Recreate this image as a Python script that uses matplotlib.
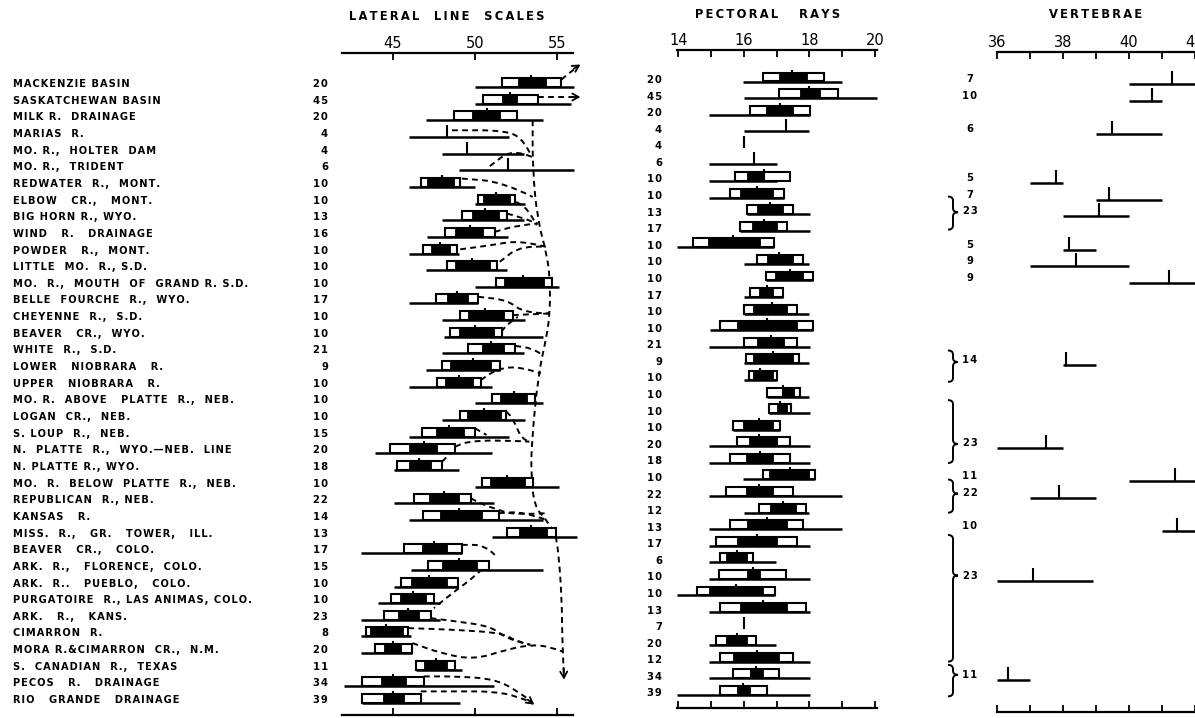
import numpy as np
import matplotlib.pyplot as plt
from matplotlib.patches import Rectangle, PathPatch
from matplotlib.path import Path
from matplotlib.transforms import blended_transform_factory

plt.rcParams['font.family'] = ['DejaVu Sans']
plt.rcParams['font.weight'] = 'bold'

W, H = 1195, 718

'''
    Data read off the chart (one row per drainage)
'''
drainages = [
    "MACKENZIE BASIN", "SASKATCHEWAN BASIN", "MILK R.  DRAINAGE", "MARIAS  R.",
    "MO. R.,  HOLTER  DAM", "MO. R.,  TRIDENT", "REDWATER  R.,  MONT.", "ELBOW   CR.,   MONT.",
    "BIG HORN R., WYO.", "WIND   R.   DRAINAGE", "POWDER   R.,  MONT.", "LITTLE  MO.  R., S.D.",
    "MO.  R.,  MOUTH  OF  GRAND R. S.D.", "BELLE  FOURCHE  R.,  WYO.", "CHEYENNE  R.,  S.D.",
    "BEAVER   CR.,  WYO.", "WHITE  R.,  S.D.", "LOWER   NIOBRARA   R.", "UPPER   NIOBRARA   R.",
    "MO. R.  ABOVE   PLATTE  R.,  NEB.", "LOGAN  CR.,  NEB.", "S. LOUP  R.,  NEB.",
    "N.  PLATTE  R.,  WYO.\u2014NEB.  LINE", "N. PLATTE R., WYO.", "MO.  R.  BELOW  PLATTE  R.,  NEB.",
    "REPUBLICAN  R., NEB.", "KANSAS   R.", "MISS.  R.,   GR.   TOWER,   ILL.", "BEAVER   CR.,   COLO.",
    "ARK.  R.,   FLORENCE,  COLO.", "ARK.  R..   PUEBLO,   COLO.", "PURGATOIRE  R., LAS ANIMAS, COLO.",
    "ARK.   R.,   KANS.", "CIMARRON  R.", "MORA R.&CIMARRON  CR.,  N.M.", "S.  CANADIAN  R.,  TEXAS",
    "PECOS   R.   DRAINAGE", "RIO   GRANDE   DRAINAGE",
]

# lateral line scales
lat_n = [20, 45, 20, 4, 4, 6, 10, 10, 13, 16, 10, 10, 10, 17, 10, 10, 21, 9, 10,
         10, 10, 15, 20, 18, 10, 22, 14, 13, 17, 15, 10, 10, 23, 8, 20, 11, 34, 39]
lat_rng_lo = [50.0, 50.0, 47.0, 46.0, 48.0, 49.0, 46.0, 50.0, 48.0, 47.1, 46.0, 47.05, 50.0,
              46.0, 48.0, 48.1, 48.0, 47.05, 46.0, 50.0, 48.0, 46.0, 43.95, 45.1, 50.0, 45.1,
              46.0, 51.05, 43.1, 46.1, 45.1, 44.1, 43.1, 43.1, 43.1, 46.4, 42.05, 43.15]
lat_rng_hi = [56.0, 55.8, 54.1, 52.05, 53.0, 56.0, 50.0, 53.05, 52.95, 52.0, 49.0, 51.95, 55.1,
              50.2, 53.05, 54.1, 52.95, 51.5, 51.05, 54.1, 53.05, 52.05, 51.05, 49.0, 55.1, 51.15,
              54.1, 56.2, 49.2, 54.1, 48.9, 47.9, 47.9, 46.1, 46.2, 49.2, 51.15, 49.1]
lat_sd_lo = [51.65, 50.5, 48.7, None, None, None, 46.7, 50.2, 49.2, 48.15, 46.85, 48.3, 51.25,
             47.6, 49.1, 48.5, 49.6, 48.0, 47.7, 51.05, 49.1, 46.8, 44.85, 45.25, 50.45, 46.3,
             46.85, 51.95, 45.7, 47.15, 45.5, 44.9, 44.5, 43.4, 43.9, 46.4, 43.15, 43.15]
lat_sd_hi = [55.2, 53.8, 52.55, None, None, None, 49.1, 52.45, 51.95, 51.2, 48.9, 51.35, 54.7,
             50.2, 52.3, 51.65, 52.45, 51.5, 50.35, 53.65, 51.9, 50.0, 48.8, 48.0, 53.5, 49.75,
             51.45, 54.9, 49.2, 50.85, 48.95, 47.5, 47.3, 45.9, 46.2, 48.8, 46.9, 46.7]
lat_se_lo = [52.6, 51.65, 49.8, None, None, None, 47.1, 50.5, 49.8, 48.8, 47.3, 48.8, 51.75,
             48.3, 49.6, 49.0, 50.45, 48.5, 48.2, 51.5, 49.5, 47.6, 46.0, 46.0, 50.9, 47.2,
             47.9, 52.65, 46.8, 48.0, 46.1, 45.45, 45.3, 43.6, 44.5, 46.9, 44.3, 44.4]
lat_se_hi = [54.3, 52.55, 51.5, None, None, None, 48.7, 52.15, 51.45, 50.5, 48.5, 50.9, 54.2,
             49.55, 51.75, 51.15, 51.75, 51.0, 49.9, 53.15, 51.55, 49.3, 47.7, 47.3, 53.05, 49.0,
             50.45, 54.35, 48.3, 50.1, 48.3, 47.0, 46.6, 45.6, 45.5, 48.3, 45.8, 45.7]
lat_mean = [53.4, 52.1, 50.7, 48.3, 49.5, 52.0, 48.0, 51.3, 50.6, 49.7, 47.9, 49.8, 52.9,
            48.9, 50.6, 50.0, 51.0, 49.9, 49.0, 52.35, 50.55, 48.4, 46.9, 46.6, 51.95, 48.1,
            49.0, 53.4, 47.5, 49.0, 47.2, 46.25, 45.9, 44.6, 45.0, 47.6, 45.0, 45.0]

# pectoral rays
pec_n = [20, 45, 20, 4, 4, 6, 10, 10, 13, 17, 10, 10, 10, 17, 10, 10, 21, 9, 10,
         10, 10, 10, 20, 18, 10, 22, 12, 13, 17, 6, 10, 10, 13, 7, 20, 12, 34, 39]
pec_rng_lo = [15.98, 16.0, 14.95, 16.0, 16.0, 14.95, 14.95, 14.95, 16.09, 15.88, 13.95, 16.0, 16.68,
              16.0, 16.0, 14.97, 14.95, 16.0, 16.0, 16.7, 16.78, 15.68, 14.95, 14.95, 15.98, 14.95,
              16.0, 14.95, 14.95, 14.95, 14.95, 13.95, 14.95, 16.0, 14.95, 14.95, 14.95, 13.95]
pec_rng_hi = [18.98, 20.05, 18.02, 18.0, 16.0, 17.0, 17.0, 17.22, 18.02, 18.02, 16.92, 18.0, 18.12,
              17.2, 18.0, 18.12, 18.02, 18.0, 17.0, 18.0, 18.02, 17.1, 18.02, 18.02, 18.17, 18.98,
              18.0, 18.98, 18.02, 16.98, 18.02, 16.95, 18.02, 16.0, 16.98, 18.02, 18.02, 18.02]
pec_sd_lo = [16.57, 17.08, 16.19, None, None, None, 15.73, 15.58, 16.09, 15.88, 14.46, 16.39, 16.68,
             16.19, 16.0, 15.27, 16.0, 16.07, 16.17, 16.7, 16.78, 15.68, 15.78, 15.58, 16.59, 15.45,
             16.47, 15.58, 15.15, 15.27, 15.25, 14.56, 15.27, None, 15.15, 15.27, 15.66, 15.27]
pec_sd_hi = [18.43, 18.88, 18.02, None, None, None, 17.4, 17.22, 17.51, 17.31, 16.92, 17.81, 18.12,
             17.2, 17.61, 18.12, 17.61, 17.69, 17.0, 17.71, 17.43, 17.1, 17.41, 17.41, 18.17, 17.49,
             17.9, 17.79, 17.61, 16.29, 17.29, 16.95, 17.9, None, 16.37, 17.49, 17.08, 16.7]
pec_se_lo = [17.08, 17.71, 16.68, None, None, None, 16.08, 15.88, 16.39, 16.24, 14.89, 16.7, 16.95,
             16.47, 16.27, 15.78, 16.39, 16.29, 16.27, 17.2, 17.0, 15.96, 16.14, 16.07, 16.75, 16.07,
             16.8, 16.09, 15.78, 15.45, 16.09, 14.95, 15.88, None, 15.45, 15.68, 16.19, 15.78]
pec_se_hi = [17.92, 18.32, 17.51, None, None, None, 16.6, 16.9, 17.2, 17.0, 16.49, 17.51, 17.81,
             16.9, 17.31, 17.61, 17.22, 17.51, 16.9, 17.53, 17.31, 16.9, 17.0, 16.9, 17.97, 16.9,
             17.59, 17.31, 17.0, 16.1, 16.49, 16.59, 17.31, None, 16.09, 17.08, 16.59, 16.19]
pec_mean = [17.46, 18.0, 17.1, 17.28, 16.0, 16.3, 16.6, 16.4, 16.8, 16.6, 15.68, 17.08, 17.41,
            16.7, 16.85, 16.7, 16.82, 16.9, 16.5, 17.2, 17.1, 16.47, 16.47, 16.5, 17.41, 16.47,
            17.2, 16.7, 16.39, 15.78, 16.29, 15.76, 16.59, 16.0, 15.78, 16.39, 16.37, 15.98]

# vertebrae (only some drainages)
ver_n = ['7', '10', '', '6', '', '', '5', '7', '23', '', '5', '9', '9', '', '', '', '', '14', '',
         '', '', '', '23', '', '11', '22', '', '10', '', '', '23', '', '', '', '', '', '11', '']
ver_lo = [40.0, 40.0, None, 39.0, None, None, 37.0, 39.0, 38.0, None, 38.0, 37.0, 40.0, None, None,
          None, None, 38.0, None, None, None, None, 36.0, None, 40.0, 37.0, None, 41.0, None, None,
          36.0, None, None, None, None, None, 36.0, None]
ver_hi = [42.3, 41.0, None, 41.0, None, None, 38.0, 41.0, 40.0, None, 39.0, 40.0, 42.0, None, None,
          None, None, 39.0, None, None, None, None, 38.0, None, 42.0, 39.0, None, 42.0, None, None,
          38.9, None, None, None, None, None, 37.0, None]
ver_mean = [41.3, 40.7, None, 39.5, None, None, 37.8, 39.4, 39.1, None, 38.2, 38.4, 41.2, None, None,
            None, None, 38.1, None, None, None, None, 37.5, None, 41.4, 37.9, None, 41.45, None, None,
            37.1, None, None, None, None, None, 36.35, None]
# braces grouping vertebrae samples (row spans)
brace_top = [6.8, 16.1, 19.1, 23.9, 27.25, 35.1]
brace_bot = [8.8, 18.0, 22.9, 25.9, 34.9, 37.0]
brace_tip = [7.75, 16.8, 21.75, 24.75, 29.7, 35.7]

# dashed relationship lines on the lateral line panel, (scale count, row)
lat_links = [
    [(53.5, 2.0), (53.5, 5.0), (53.8, 8.0), (54.35, 10.0), (54.55, 11.5), (54.55, 13.5),
     (54.35, 15.0), (53.85, 17.2), (53.45, 21.2), (53.4, 23.2), (53.6, 25.2), (54.35, 26.0),
     (54.85, 26.8)],
    [(54.9, 27.0), (55.05, 27.8), (55.27, 30.6), (55.3, 33.6), (55.4, 35.3)],
    [(48.6, 2.6), (51.9, 2.6), (53.0, 3.2), (53.45, 4.2)],
    [(50.9, 4.75), (52.3, 3.7), (53.45, 4.2)],
    [(49.2, 5.5), (51.7, 5.7), (53.5, 6.6)],
    [(52.5, 6.9), (53.2, 7.3), (53.75, 8.3)],
    [(51.95, 7.6), (53.0, 7.9), (53.8, 8.2)],
    [(51.2, 8.7), (52.6, 8.3), (53.8, 8.2)],
    [(49.1, 9.75), (51.0, 9.5), (52.8, 9.2), (54.3, 9.6)],
    [(51.5, 10.5), (52.8, 9.5), (54.3, 9.6)],
    [(50.2, 12.6), (52.0, 12.8), (53.0, 13.6), (54.55, 13.6)],
    [(52.3, 13.7), (54.55, 13.6)],
    [(51.6, 14.7), (52.0, 14.2), (52.6, 13.8)],
    [(52.45, 15.55), (53.5, 15.7), (53.95, 16.0)],
    [(50.35, 17.6), (51.4, 16.9), (52.8, 16.8), (54.0, 17.2)],
    [(51.9, 19.5), (52.3, 19.9), (52.85, 21.2), (53.3, 21.3)],
    [(50.0, 20.5), (50.7, 20.9)],
    [(48.8, 21.6), (49.5, 21.3), (51.4, 21.2), (53.3, 21.3)],
    [(48.0, 22.5), (48.5, 22.0)],
    [(49.75, 24.7), (50.3, 25.0), (51.4, 25.4), (52.4, 25.7), (54.3, 25.6)],
    [(51.45, 25.6), (52.9, 25.5), (54.35, 26.0)],
    [(49.2, 27.5), (50.6, 27.5), (51.2, 28.1)],
    [(50.85, 28.5), (50.0, 29.4), (48.6, 30.4), (47.5, 31.3)],
    [(47.3, 31.9), (48.9, 32.1), (51.0, 32.4), (52.0, 33.2), (53.35, 33.5)],
    [(45.95, 32.5), (48.9, 32.6), (51.7, 32.8), (52.5, 33.3), (53.35, 33.5)],
    [(46.2, 33.4), (47.9, 34.0), (49.9, 34.4), (51.9, 33.8), (53.35, 33.5), (54.5, 33.6), (55.3, 33.9)],
    [(46.9, 35.4), (48.9, 35.4), (51.1, 35.55), (52.5, 36.2), (53.4, 36.9)],
    [(46.7, 36.3), (48.9, 36.3), (51.1, 36.3), (52.6, 36.6), (53.4, 36.95)],
    [(55.25, -0.45), (55.8, -0.9), (56.2, -1.2)],
    [(53.85, 0.6), (56.1, 0.6)],
]
# arrow heads: (from, to)
lat_arrows = [((55.38, 34.9), (55.4, 35.6)), ((53.2, 36.8), (53.6, 37.1)),
              ((56.0, -1.1), (56.4, -1.35)), ((55.9, 0.6), (56.4, 0.6))]


def spaced(s, gap='\u200a'):
    # hand lettering is wider than the font, so open the letters up a little
    return gap.join(s)


def smooth_path(pts):
    pts = np.asarray(pts, float)
    if len(pts) == 2:
        return Path(pts, [Path.MOVETO, Path.LINETO])
    mids = (pts[:-1] + pts[1:]) / 2
    verts = [pts[0], mids[0]]
    codes = [Path.MOVETO, Path.LINETO]
    n = len(pts)
    for i in range(1, n - 1):
        end = mids[i] if i < n - 2 else pts[-1]
        verts += [pts[i], end]
        codes += [Path.CURVE3, Path.CURVE3]
    return Path(verts, codes)


def hubbs(ax, r, lo, hi, sdlo, sdhi, selo, sehi, mean, bh=0.54, th=0.72):
    if sdlo is not None:
        ax.add_patch(Rectangle((sdlo, r - bh), sdhi - sdlo, bh, fc='white', ec='black',
                               lw=1.5, zorder=3, clip_on=False))
        ax.add_patch(Rectangle((selo, r - bh), sehi - selo, bh, fc='black', ec='black',
                               lw=0.6, zorder=4, clip_on=False))
    if hi > lo:
        ax.hlines(r, lo, hi, color='k', lw=1.8, zorder=5, clip_on=False)
    ax.vlines(mean, r - th, r, color='k', lw=1.5, zorder=5, clip_on=False)


fig = plt.figure(figsize=(W / 100, H / 100), dpi=100)


def make_panel(left, right, top, bottom, xlim, y0, step, ticks, labels):
    ax = fig.add_axes([left / W, 1 - bottom / H, (right - left) / W, (bottom - top) / H])
    ax.set_xlim(xlim)
    ax.set_ylim((bottom - y0) / step, (top - y0) / step)
    ax.set_yticks([])
    for s in ['left', 'right']:
        ax.spines[s].set_visible(False)
    for s in ['top', 'bottom']:
        ax.spines[s].set_linewidth(1.6)
    ax.set_xticks(ticks)
    ax.set_xticklabels(labels, fontweight='normal')
    ax.tick_params(axis='x', direction='in', top=True, bottom=True, labeltop=True,
                   labelbottom=False, length=5, width=1.3, pad=1.5, labelsize=10.5)
    ax.patch.set_visible(False)
    return ax


ax_lat = make_panel(342, 573, 52.7, 715, (41.92, 55.95), 87, 16.65, [45, 50, 55], ['45', '50', '55'])
ax_pec = make_panel(676.7, 876.7, 50, 708, (13.95, 20.05), 81.5, 16.58, list(range(14, 21)),
                    ['14', '', '16', '', '18', '', '20'])
ax_ver = make_panel(996.7, 1195, 51.7, 712, (36, 42), 84, 16.55, list(range(36, 43)),
                    ['36', '', '38', '', '40', '', '42'])

fig.text(446.7 / W, 1 - 16.7 / H, spaced('LATERAL  LINE  SCALES', '\u2009'), ha='center',
         va='center', fontsize=8.3)
fig.text(767.5 / W, 1 - 14.5 / H, spaced('PECTORAL   RAYS', '\u2009'), ha='center',
         va='center', fontsize=8.3)
fig.text(1096 / W, 1 - 15 / H, spaced('VERTEBRAE', '\u2009'), ha='center', va='center',
         fontsize=8.3)

# row labels and sample sizes
tr_lat = blended_transform_factory(fig.transFigure, ax_lat.transData)
for r, name in enumerate(drainages):
    ax_lat.text(13 / W, r - 0.18, spaced(name), transform=tr_lat, ha='left', va='center',
                fontsize=7.1)
    ax_lat.text(328 / W, r - 0.18, spaced(str(lat_n[r])), transform=tr_lat, ha='right',
                va='center', fontsize=7.2)

tr_pec = blended_transform_factory(fig.transFigure, ax_pec.transData)
for r, n in enumerate(pec_n):
    ax_pec.text(662 / W, r - 0.09, spaced(str(n)), transform=tr_pec, ha='right', va='center',
                fontsize=7.2)

tr_ver = blended_transform_factory(fig.transFigure, ax_ver.transData)
for r, n in enumerate(ver_n):
    if n:
        ax_ver.text(970 / W, r - 0.3, spaced(n), transform=tr_ver, ha='center', va='center',
                    fontsize=7.2)

# hubbs diagrams
for r in range(len(drainages)):
    hubbs(ax_lat, r, lat_rng_lo[r], lat_rng_hi[r], lat_sd_lo[r], lat_sd_hi[r],
          lat_se_lo[r], lat_se_hi[r], lat_mean[r])
    hubbs(ax_pec, r, pec_rng_lo[r], pec_rng_hi[r], pec_sd_lo[r], pec_sd_hi[r],
          pec_se_lo[r], pec_se_hi[r], pec_mean[r])
    if ver_lo[r] is not None:
        hubbs(ax_ver, r, ver_lo[r], ver_hi[r], None, None, None, None, ver_mean[r], th=0.78)

# dashed relationship curves
for pts in lat_links:
    ax_lat.add_patch(PathPatch(smooth_path(pts), fill=False, ec='k', lw=1.4,
                               linestyle=(0, (3, 2.2)), zorder=2, clip_on=False))
for a, b in lat_arrows:
    ax_lat.annotate('', xy=b, xytext=a, annotation_clip=False,
                    arrowprops=dict(arrowstyle='->,head_length=0.45,head_width=0.25',
                                    lw=1.3, color='k', shrinkA=0, shrinkB=0))

# braces next to the vertebrae counts
for top, bot, tip in zip(brace_top, brace_bot, brace_tip):
    x0, x1, x2 = 948 / W, 953 / W, 958 / W
    c = 0.25
    verts = [(x0, top), (x1, top), (x1, top + c), (x1, tip - c), (x1, tip), (x2, tip),
             (x1, tip), (x1, tip + c), (x1, bot - c), (x1, bot), (x0, bot)]
    codes = [Path.MOVETO, Path.CURVE3, Path.CURVE3, Path.LINETO, Path.CURVE3, Path.CURVE3,
             Path.CURVE3, Path.CURVE3, Path.LINETO, Path.CURVE3, Path.CURVE3]
    ax_ver.add_patch(PathPatch(Path(verts, codes), fill=False, ec='k', lw=1.4,
                               transform=tr_ver, clip_on=False))

plt.savefig('out.png', dpi=100)
